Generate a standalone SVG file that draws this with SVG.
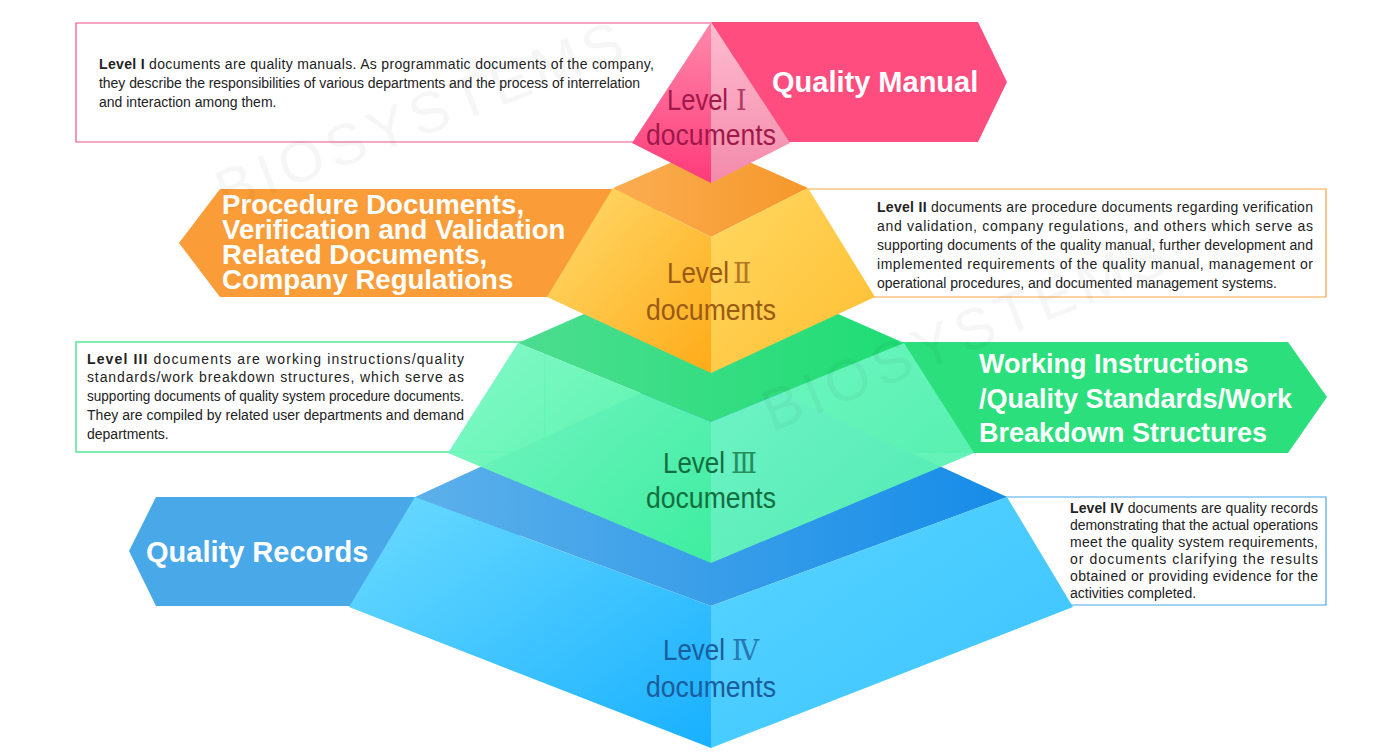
<svg xmlns="http://www.w3.org/2000/svg" width="1400" height="756" viewBox="0 0 1400 756">
<defs>
<style>
.box{fill:#fff;stroke-width:1.2}
.bt{font-family:"Liberation Sans",Arial,sans-serif;font-size:14px;fill:#222}
.bt .b{font-weight:bold}
.ban{font-family:"Liberation Sans",Arial,sans-serif;font-weight:bold;fill:#fff}
.lv{font-family:"Liberation Sans",Arial,sans-serif;font-size:29px}
.num{font-family:"DejaVu Serif","Liberation Serif","Noto Sans CJK SC",serif;font-weight:200;font-size:27px;opacity:0.75}
.wm{font-family:"Liberation Sans",Arial,sans-serif;font-size:58px;fill:#000;opacity:0.03;letter-spacing:6px}
</style>
<linearGradient id="pL" x1="0" y1="0" x2="0" y2="1"><stop offset="0" stop-color="#ff8aab"/><stop offset="1" stop-color="#ff3a7a"/></linearGradient>
<linearGradient id="pR" x1="0" y1="0" x2="0" y2="1"><stop offset="0" stop-color="#ffbccf"/><stop offset="1" stop-color="#f38aab"/></linearGradient>
<linearGradient id="oT" x1="0" y1="0" x2="1" y2="0"><stop offset="0" stop-color="#fbad52"/><stop offset="1" stop-color="#f5982a"/></linearGradient>
<linearGradient id="oL" x1="0" y1="0" x2="1" y2="1"><stop offset="0" stop-color="#ffdb6e"/><stop offset="1" stop-color="#ffab18"/></linearGradient>
<linearGradient id="oR" x1="0" y1="0" x2="1" y2="1"><stop offset="0" stop-color="#ffd862"/><stop offset="1" stop-color="#ffbe30"/></linearGradient>
<linearGradient id="gT" x1="0" y1="0" x2="1" y2="0"><stop offset="0" stop-color="#4cdd90"/><stop offset="1" stop-color="#1fdd74"/></linearGradient>
<linearGradient id="gL" x1="0" y1="0" x2="1" y2="1"><stop offset="0" stop-color="#7ef8c6"/><stop offset="1" stop-color="#3ef29c"/></linearGradient>
<linearGradient id="gR" x1="0" y1="0" x2="1" y2="1"><stop offset="0" stop-color="#74f8c6"/><stop offset="1" stop-color="#52efae"/></linearGradient>
<linearGradient id="bT" x1="0" y1="0" x2="1" y2="0"><stop offset="0" stop-color="#5cb0ea"/><stop offset="1" stop-color="#168ce8"/></linearGradient>
<linearGradient id="bL" x1="0" y1="0" x2="1" y2="1"><stop offset="0" stop-color="#6cdbff"/><stop offset="1" stop-color="#18b0ff"/></linearGradient>
<linearGradient id="bR" x1="0" y1="0" x2="1" y2="1"><stop offset="0" stop-color="#58d5ff"/><stop offset="1" stop-color="#3ac2ff"/></linearGradient>
</defs>
<rect width="1400" height="756" fill="#fff"/>

<!-- description boxes -->
<g id="box1">
<path class="box" d="M711 23 H76 V142 H650" stroke="#f0508a"/>
<text class="bt"><tspan x="99" y="69" textLength="555"><tspan class="b">Level I</tspan> documents are quality manuals. As programmatic documents of the company,</tspan><tspan x="99" y="88" textLength="541">they describe the responsibilities of various departments and the process of interrelation</tspan><tspan x="99" y="107">and interaction among them.</tspan></text>
</g>
<g id="box2">
<path class="box" d="M800 189 H1326 V297 H860" stroke="#f5a442"/>
<text class="bt"><tspan x="877" y="212" textLength="436"><tspan class="b">Level II</tspan> documents are procedure documents regarding verification</tspan><tspan x="877" y="231" textLength="436">and validation, company regulations, and others which serve as</tspan><tspan x="877" y="250" textLength="436">supporting documents of the quality manual, further development and</tspan><tspan x="877" y="269" textLength="436">implemented requirements of the quality manual, management or</tspan><tspan x="877" y="288">operational procedures, and documented management systems.</tspan></text>
</g>
<g id="box3">
<rect class="box" x="76" y="342" width="469" height="110" stroke="#2ee07a"/>
<text class="bt"><tspan x="87" y="364" textLength="377"><tspan class="b">Level III</tspan> documents are working instructions/quality</tspan><tspan x="87" y="382" textLength="377">standards/work breakdown structures, which serve as</tspan><tspan x="87" y="401" textLength="377" lengthAdjust="spacingAndGlyphs">supporting documents of quality system procedure documents.</tspan><tspan x="87" y="420" textLength="377">They are compiled by related user departments and demand</tspan><tspan x="87" y="439">departments.</tspan></text>
</g>
<g id="box4">
<path class="box" d="M1000 497 H1326 V605 H1060" stroke="#48a8e8"/>
<text class="bt"><tspan x="1070" y="513" textLength="248"><tspan class="b">Level IV</tspan> documents are quality records</tspan><tspan x="1070" y="530" textLength="248">demonstrating that the actual operations</tspan><tspan x="1070" y="547" textLength="248">meet the quality system requirements,</tspan><tspan x="1070" y="564" textLength="248">or documents clarifying the results</tspan><tspan x="1070" y="581" textLength="248">obtained or providing evidence for the</tspan><tspan x="1070" y="598">activities completed.</tspan></text>
</g>

<!-- banners -->
<g id="banner4">
<polygon points="156,497 520,497 520,606 156,606 129,551" fill="#48a8e8"/>
<text class="ban" x="146" y="562" font-size="29">Quality Records</text>
</g>
<g id="banner3">
<polygon points="760,342 1288,342 1327,397 1288,453 760,453" fill="#2bdf7d"/>
<text class="ban" font-size="27"><tspan x="979" y="373">Working Instructions</tspan><tspan x="979" y="408">/Quality Standards/Work</tspan><tspan x="979" y="442">Breakdown Structures</tspan></text>
</g>
<g id="banner2">
<polygon points="220,189 660,189 660,297 220,297 179,243" fill="#fa9d38"/>
<text class="ban" font-size="27.6"><tspan x="222" y="214">Procedure Documents,</tspan><tspan x="222" y="239">Verification and Validation</tspan><tspan x="222" y="264">Related Documents,</tspan><tspan x="222" y="289">Company Regulations</tspan></text>
</g>
<g id="banner1">
<polygon points="711,22 978,22 1007,82 978,142 711,142" fill="#ff4d80"/>
<text class="ban" x="772" y="92" font-size="29">Quality Manual</text>
</g>

<!-- pyramid layers -->
<g id="level4">
<polygon points="415,497 711,361 1007,497 711,606" fill="url(#bT)"/>
<polygon points="415,497 711,606 711,748 349,607" fill="url(#bL)"/>
<polygon points="711,606 1007,497 1073,607 711,748" fill="url(#bR)"/>
<text class="lv" fill="#1b5c9c"><tspan x="663" y="660" textLength="62" lengthAdjust="spacingAndGlyphs">Level</tspan><tspan class="num" x="732" y="660">Ⅳ</tspan><tspan x="711" y="697" text-anchor="middle" textLength="130" lengthAdjust="spacingAndGlyphs">documents</tspan></text>
</g>
<g id="level3">
<polygon points="518,343 711,258 904,343 711,422" fill="url(#gT)"/>
<polygon points="518,343 711,422 711,563 448,453" fill="url(#gL)" opacity="0.95"/>
<polygon points="711,422 904,343 974,453 711,563" fill="url(#gR)" opacity="0.95"/>
<text class="lv" fill="#126e3e"><tspan x="663" y="473" textLength="62" lengthAdjust="spacingAndGlyphs">Level</tspan><tspan class="num" x="731" y="473">Ⅲ</tspan><tspan x="711" y="508" text-anchor="middle" textLength="130" lengthAdjust="spacingAndGlyphs">documents</tspan></text>
</g>
<g id="level2">
<polygon points="613,188 711,145 808,188 711,237" fill="url(#oT)"/>
<polygon points="613,188 711,237 711,373 547,297" fill="url(#oL)"/>
<polygon points="711,237 808,188 875,297 711,373" fill="url(#oR)"/>
<text class="lv" fill="#9a5a14"><tspan x="667" y="283" textLength="62" lengthAdjust="spacingAndGlyphs">Level</tspan><tspan class="num" x="733" y="283">Ⅱ</tspan><tspan x="711" y="320" text-anchor="middle" textLength="130" lengthAdjust="spacingAndGlyphs">documents</tspan></text>
</g>
<g id="level1">
<polygon points="711,22 632,143 711,183" fill="url(#pL)"/>
<polygon points="711,22 790,143 711,183" fill="url(#pR)"/>
<text class="lv" fill="#a0184a"><tspan x="667" y="110" textLength="61" lengthAdjust="spacingAndGlyphs">Level</tspan><tspan class="num" x="736" y="110">Ⅰ</tspan><tspan x="711" y="145" text-anchor="middle" textLength="130" lengthAdjust="spacingAndGlyphs">documents</tspan></text>
</g>

<g id="connectors"></g>

<!-- faint watermark -->
<g id="watermark">
<text class="wm" transform="translate(225,212) rotate(-21)">BIOSYSTEMS</text>
<text class="wm" transform="translate(772,432) rotate(-22)">BIOSYSTEMS</text>
</g>
</svg>
